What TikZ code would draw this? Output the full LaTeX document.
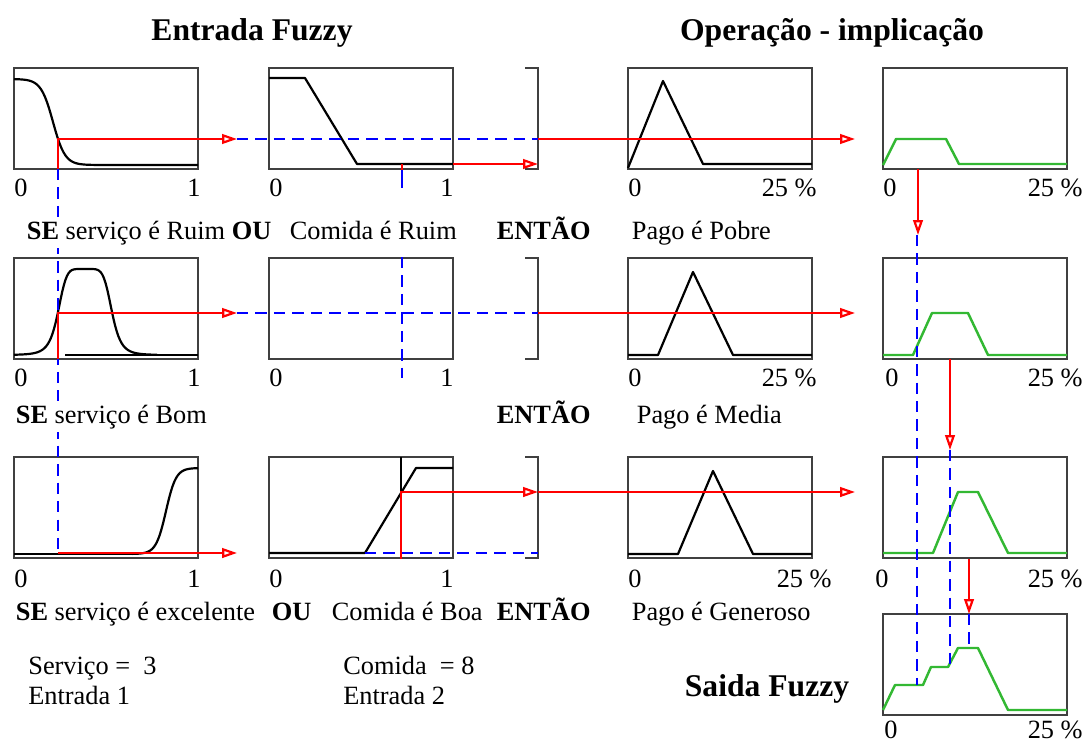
\documentclass[tikz,border=0pt]{standalone}
\usepackage{fontspec}
\setmainfont{Liberation Serif}
\usetikzlibrary{arrows.meta}
\definecolor{verdefz}{rgb}{0.2, 0.72, 0.2}
\definecolor{cinzafz}{rgb}{0.25, 0.25, 0.25}
\tikzset{
  caixa/.style={draw=cinzafz,line width=1.4pt},
  pert/.style={black,line width=1.25pt,line join=round},
  saida/.style={verdefz,line width=1.4pt,line join=round},
  linha/.style={red,line width=1.25pt},
  seta/.style={linha,-{Triangle[open,length=8.5pt,width=5.5pt]}},
  tracejado/.style={blue,line width=1.25pt,dash pattern=on 6.5pt off 4pt},
  rotulo/.style={font=\fontsize{15}{18}\selectfont,inner sep=0pt},
  regra/.style={rotulo,anchor=base west,fill=white,inner sep=2pt},
  titulo/.style={font=\fontsize{18}{21}\selectfont\bfseries,inner sep=0pt,anchor=base},
}
\begin{document}
\begin{tikzpicture}[x=0.02cm,y=-0.02cm]
\useasboundingbox (0,0) rectangle (1090,744);

% caixas das funcoes de pertinencia
\foreach \x in {14,269,628,883} {
  \foreach \y in {68,258,457} {
    \draw[caixa] (\x,\y) rectangle ++(184,101);
  }
}
\draw[caixa] (883,614) rectangle ++(184,101);
\foreach \y in {68,258,457} {
  \draw[caixa] (525,\y) -- (538,\y) -- (538,{\y+101}) -- (525,{\y+101});
}

% entrada 1 (servico)
\draw[pert] plot[domain=14:198,samples=90] (\x,{79+86/(1+exp(-(\x-53)/6))});
\draw[pert] plot[domain=14:157,samples=90] (\x,{355-86/(1+pow((\x-85)*(\x-85)/729,3))});
\draw[pert] (65,355) -- (198,355);
\draw[pert] (14,554) -- (132,554);
\draw[pert] plot[domain=132:198,samples=60] (\x,{554-86/(1+exp(-(\x-166)/5))});

% entrada 2 (comida)
\draw[pert] (269,78) -- (305,78) -- (357,164) -- (453,164);
\draw[pert] (269,553) -- (365,553) -- (416,468) -- (453,468);
\draw[pert] (401,457) -- (401,492);

% consequentes
\draw[pert] (628,168) -- (663,81) -- (703,164) -- (812,164);
\draw[pert] (628,355) -- (658,355) -- (693,272) -- (733,355) -- (812,355);
\draw[pert] (628,554) -- (678,554) -- (713,471) -- (753,554) -- (812,554);

% implicacao e agregacao
\draw[saida] (883,165) -- (896,139) -- (946,139) -- (959,164) -- (1067,164);
\draw[saida] (883,355) -- (913,355) -- (932,313) -- (968,313) -- (988,355) -- (1067,355);
\draw[saida] (883,553) -- (933,553) -- (958,492) -- (978,492) -- (1008,553) -- (1067,553);
\draw[saida] (883,710) -- (895,685) -- (923,685) -- (931,667) -- (948,667)
  -- (958,648) -- (978,648) -- (1008,710) -- (1067,710);

% linhas tracejadas
\draw[tracejado] (58,169) -- (58,553);
\draw[tracejado] (237,139) -- (538,139);
\draw[tracejado] (237,313) -- (538,313);
\draw[tracejado,solid] (402,169) -- (402,188);
\draw[tracejado] (402,257) -- (402,378);
\draw[tracejado] (365,553) -- (538,553);
\draw[tracejado] (917,235) -- (917,685);
\draw[tracejado] (950,450) -- (950,667);
\draw[tracejado] (969,614) -- (969,648);

% setas
\draw[seta] (58,169) -- (58,139) -- (237,139);
\draw[seta] (58,359) -- (58,313) -- (237,313);
\draw[seta] (58,553) -- (237,553);
\draw[linha] (402,164) -- (402,170);
\draw[seta] (453,164) -- (538,164);
\draw[seta] (401,559) -- (401,492) -- (538,492);
\draw[seta] (538,139) -- (855,139);
\draw[seta] (538,313) -- (855,313);
\draw[seta] (538,492) -- (855,492);
\draw[seta] (918,169) -- (918,235);
\draw[seta] (950,359) -- (950,450);
\draw[seta] (969,559) -- (969,614);

% escalas
\foreach \y/\n in {196/a,386/b,587/c} {
  \node[rotulo,anchor=base west] (zs\n) at (14,\y) {0};
  \node[rotulo,anchor=base east] (us\n) at (201,\y) {1};
  \node[rotulo,anchor=base west] (zc\n) at (269,\y) {0};
  \node[rotulo,anchor=base east] (uc\n) at (454,\y) {1};
  \node[rotulo,anchor=base west] (zp\n) at (628,\y) {0};
}
\node[rotulo,anchor=base east] (pa) at (817,196) {25 \%};
\node[rotulo,anchor=base east] (pb) at (817,386) {25 \%};
\node[rotulo,anchor=base east] (pc) at (832,587) {25 \%};
\node[rotulo,anchor=base west] (zia) at (883,196) {0};
\node[rotulo,anchor=base west] (zib) at (885,386) {0};
\node[rotulo,anchor=base west] (zic) at (875,587) {0};
\node[rotulo,anchor=base west] (zsf) at (884,738) {0};
\foreach \y/\n in {196/a,386/b,587/c,738/f} {
  \node[rotulo,anchor=base east] (qi\n) at (1083,\y) {25 \%};
}

% regras
\node[regra] (se1) at (23,239) {\textbf{SE} serviço é Ruim \textbf{OU}};
\node[regra] (co1) at (286,239) {Comida é Ruim};
\node[regra] (en1) at (493,239) {\textbf{ENTÃO}};
\node[regra] (pg1) at (628,239) {Pago é Pobre};
\node[regra] (se2) at (12,423) {\textbf{SE} serviço é Bom};
\node[regra] (en2) at (493,423) {\textbf{ENTÃO}};
\node[regra] (pg2) at (633,423) {Pago é Media};
\node[regra] (se3) at (12,620) {\textbf{SE} serviço é excelente};
\node[regra] (ou3) at (268,620) {\textbf{OU}};
\node[regra] (co3) at (328,620) {Comida é Boa};
\node[regra] (en3) at (493,620) {\textbf{ENTÃO}};
\node[regra] (pg3) at (628,620) {Pago é Generoso};

% entradas
\node[rotulo,anchor=base west] (vs) at (28,674) {Serviço = \ 3};
\node[rotulo,anchor=base west] (e1) at (28,704) {Entrada 1};
\node[rotulo,anchor=base west] (vc) at (343,674) {Comida \ = 8};
\node[rotulo,anchor=base west] (e2) at (343,704) {Entrada 2};

% titulos
\node[titulo] (tent) at (252,40) {Entrada Fuzzy};
\node[titulo] (topr) at (832,40) {Operação - implicação};
\node[titulo] (tsai) at (767,696) {Saida Fuzzy};
\end{tikzpicture}
\end{document}
